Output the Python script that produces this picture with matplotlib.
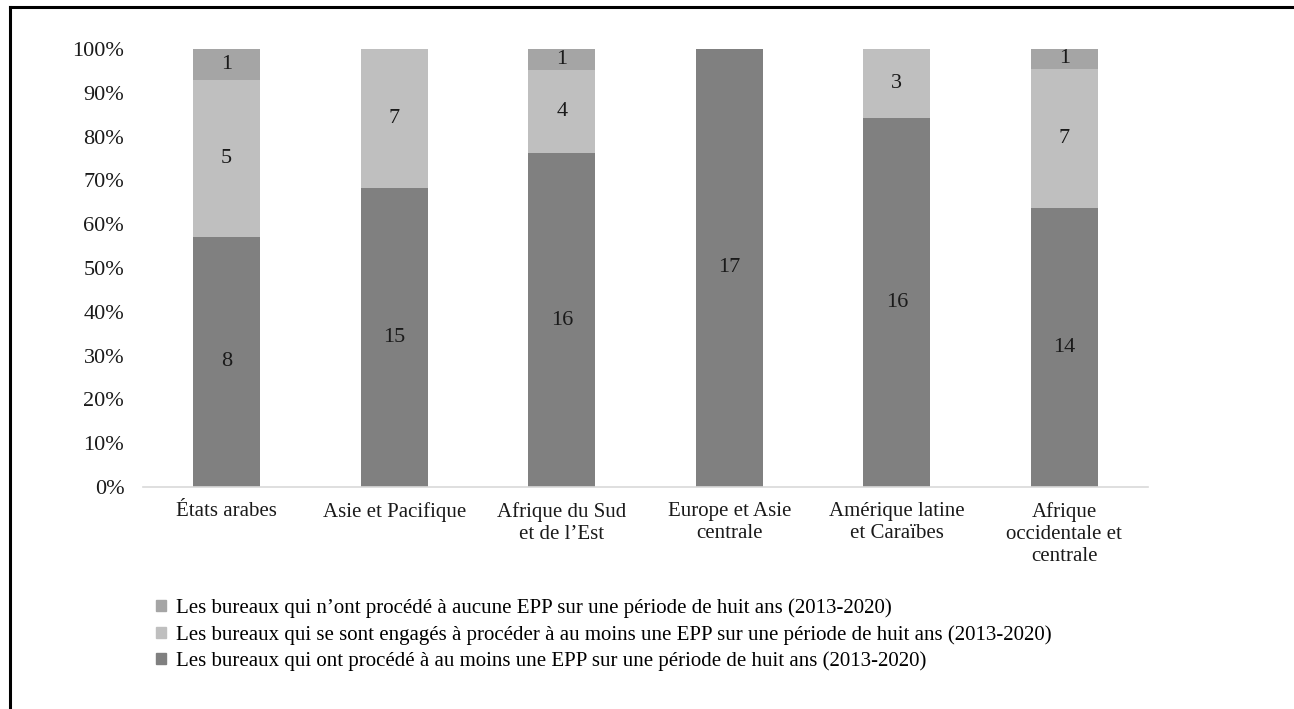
import matplotlib
matplotlib.use('Agg')
import numpy as np
import matplotlib.pyplot as plt
import matplotlib.patches as mpatches

regions = ["États arabes", "Asie et Pacifique", "Afrique du Sud\net de l\u2019Est",
           "Europe et Asie\ncentrale", "Amérique latine\net Caraïbes",
           "Afrique\noccidentale et\ncentrale"]
done = [8, 15, 16, 17, 16, 14]
committed = [5, 7, 4, 0, 3, 7]
none_done = [1, 0, 1, 0, 0, 1]

series_names = [
    "Les bureaux qui ont procédé à au moins une EPP sur une période de huit ans (2013-2020)",
    "Les bureaux qui se sont engagés à procéder à au moins une EPP sur une période de huit ans (2013-2020)",
    "Les bureaux qui n\u2019ont procédé à aucune EPP sur une période de huit ans (2013-2020)",
]
colors = ['#808080', '#bfbfbf', '#a5a5a5']

plt.rcParams['font.family'] = ['Liberation Serif', 'DejaVu Serif']

fig = plt.figure(figsize=(12.94, 7.09), dpi=100)
ax = fig.add_axes([143/1294, 1 - 487/709, (1148-143)/1294, (487-49)/709])

counts = np.array([done, committed, none_done], dtype=float)
totals = counts.sum(axis=0)
shares = counts / totals * 100
x = np.arange(len(regions))
bottom = np.zeros(len(regions))
for i in range(3):
    ax.bar(x, shares[i], bottom=bottom, width=0.4, color=colors[i], linewidth=0)
    for j in range(len(regions)):
        if counts[i][j] > 0:
            ax.text(x[j], bottom[j] + shares[i][j] / 2, "%d" % counts[i][j],
                    ha='center', va='center', fontsize=16, color='#1a1a1a')
    bottom += shares[i]

ax.set_xlim(-0.5, len(regions) - 0.5)
ax.set_ylim(0, 100)
ax.set_yticks(np.arange(0, 101, 10))
ax.set_yticklabels(["%d%%" % v for v in range(0, 101, 10)], fontsize=16)
ax.set_xticks(x)
ax.set_xticklabels(regions, linespacing=1.2, fontsize=15)
ax.tick_params(axis='both', length=0, colors='#1a1a1a')
ax.tick_params(axis='y', pad=13.5)
ax.tick_params(axis='x', pad=11)
for side in ['top', 'right', 'left']:
    ax.spines[side].set_visible(False)
ax.spines['bottom'].set_color('#d9d9d9')
ax.spines['bottom'].set_linewidth(1.2)

handles = [mpatches.Patch(color=colors[i], label=series_names[i]) for i in [2, 1, 0]]
fig.legend(handles=handles, loc='upper left', bbox_to_anchor=(148/1294, 1 - 590/709),
           frameon=False, fontsize=15, handlelength=0.45, handleheight=0.45,
           handletextpad=0.5, labelspacing=0.33, borderaxespad=0)

# frame lines on top and left
fig.add_artist(plt.Line2D([10/1294, 1], [1 - 7/709, 1 - 7/709], color='black', lw=2.2))
fig.add_artist(plt.Line2D([10/1294, 10/1294], [0, 1 - 7/709], color='black', lw=2.2))

fig.savefig('out.png', dpi=100)
